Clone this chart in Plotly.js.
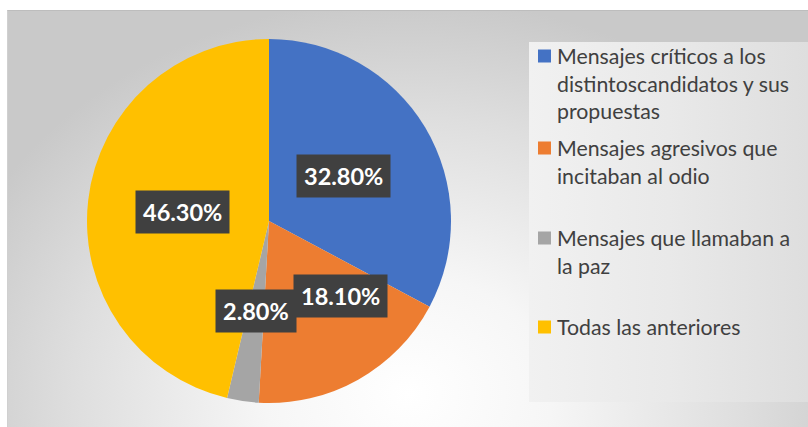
<!DOCTYPE html>
<html><head><meta charset="utf-8">
<script src="https://cdn.plot.ly/plotly-3.0.1.min.js"></script>
<style>
html,body{margin:0;padding:0;background:#fff;}
#wrap{position:relative;width:808px;height:427px;overflow:hidden;background:#fff;}
#bg{position:absolute;left:7px;top:10px;width:801px;height:417px;
 background:radial-gradient(ellipse 60% 95% at 50% 92%, #ffffff 0%, #f6f6f6 30%, #dedede 70%, #c9c9c9 100%);
 border-top:1px solid #bdbdbd;border-left:1px solid #d0d0d0;box-sizing:border-box;}
#lg{position:absolute;left:529px;top:42px;width:279px;height:360px;
 background:linear-gradient(to right, #f1f1f1 0%, #e9e9e9 50%, #dedede 100%);}
#chart{position:absolute;left:0;top:0;width:808px;height:427px;}
</style></head>
<body><div id="wrap"><div id="bg"></div><div id="lg"></div><div id="chart"></div></div>
<script>
const categories = [
  "Mensajes críticos a los distintoscandidatos y sus propuestas",
  "Mensajes agresivos que incitaban al odio",
  "Mensajes que llamaban a la paz",
  "Todas las anteriores"
];
const legendLabels = [
  "Mensajes críticos a los<br>distintoscandidatos y sus<br>propuestas",
  "Mensajes agresivos que<br>incitaban al odio",
  "Mensajes que llamaban a<br>la paz",
  "Todas las anteriores"
];
const values = [32.8, 18.1, 2.8, 46.3];
const valueLabels = ["32.80%", "18.10%", "2.80%", "46.30%"];
const colors = ["#4472C4", "#ED7D31", "#A5A5A5", "#FFC000"];

const W = 808, H = 427;
const CX = 269, CY = 221, R = 182;
const FONT = "Lato, 'Open Sans', sans-serif";
// label placement tweaks (style, not data)
const labelRadius = [0.48, 0.57, 0.5, 0.48];
const labelAngleNudge = [0, -14, 0, -1];
const legendTop = [56, 148, 238, 327];

const px = x => x / W, py = y => 1 - y / H;

const trace = {
  type: 'pie', values: values, labels: categories, sort: false,
  direction: 'clockwise', rotation: 0,
  marker: {colors: colors, line: {width: 0}},
  textinfo: 'none', hoverinfo: 'label+percent', showlegend: false,
  domain: {x: [px(CX - R), px(CX + R)], y: [py(CY + R), py(CY - R)]}
};

const total = values.reduce((a, b) => a + b, 0);
const annotations = [];
const shapes = [];
let cum = 0;
values.forEach((v, i) => {
  const mid = (cum + v / 2) / total * 360 + labelAngleNudge[i];
  cum += v;
  const a = mid * Math.PI / 180;
  const lx = CX + Math.sin(a) * R * labelRadius[i];
  const ly = CY - Math.cos(a) * R * labelRadius[i];
  annotations.push({
    xref: 'paper', yref: 'paper', x: px(lx), y: py(ly),
    xanchor: 'center', yanchor: 'middle', showarrow: false,
    text: '<b>' + valueLabels[i] + '</b>',
    font: {family: FONT, size: 23.5, color: '#ffffff'},
    bgcolor: '#404040', borderpad: 7
  });
});
legendLabels.forEach((t, i) => {
  const yc = legendTop[i];
  shapes.push({type: 'rect', xref: 'paper', yref: 'paper',
    x0: px(538), x1: px(551), y0: py(yc + 6.5), y1: py(yc - 6.5),
    fillcolor: colors[i], line: {width: 0}});
  annotations.push({
    xref: 'paper', yref: 'paper', x: px(556), y: py(yc - 14.5),
    xanchor: 'left', yanchor: 'top', align: 'left', showarrow: false,
    text: t, font: {family: FONT, size: 21.3, color: '#404040'}, borderpad: 0
  });
});

Plotly.newPlot('chart', [trace], {
  width: W, height: H, margin: {l: 0, r: 0, t: 0, b: 0},
  paper_bgcolor: 'rgba(0,0,0,0)', plot_bgcolor: 'rgba(0,0,0,0)',
  showlegend: false, annotations: annotations, shapes: shapes
}, {displayModeBar: false, staticPlot: true});
</script></body></html>
